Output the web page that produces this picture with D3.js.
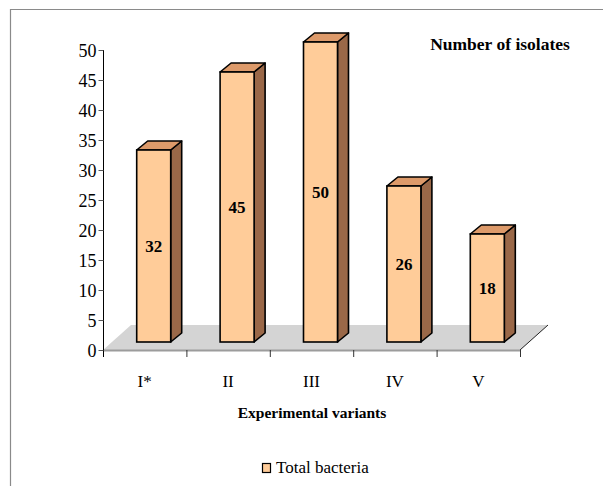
<!DOCTYPE html>
<html>
<head>
<meta charset="utf-8">
<script src="https://cdn.jsdelivr.net/npm/d3@7"></script>
<style>
  html, body { margin: 0; padding: 0; background: #fff; }
  svg { display: block; }
</style>
</head>
<body>
<svg id="chart" width="603" height="486"></svg>
<script>
// Data
const categories = ["I*", "II", "III", "IV", "V"];
const totalBacteria = [32, 45, 50, 26, 18];
const yTicks = [0, 5, 10, 15, 20, 25, 30, 35, 40, 45, 50];
const seriesName = "Total bacteria";

const FONT = "'Liberation Serif', 'DejaVu Serif', serif";
const svg = d3.select("#chart");

// Outer frame (top and left edges)
svg.append("path")
  .attr("d", "M10.5,486 L10.5,9.5 L603,9.5")
  .attr("fill", "none").attr("stroke", "#8a8a8a").attr("stroke-width", 1.2);

const plot = { left: 103, right: 520, top: 50, bottom: 350 };
const floorDepth = { dx: 28, dy: -25 };   // depth of the floor
const barShift = { dx: 9, dy: -8 };       // bars stand part-way into the floor
const barDepth = { dx: 11, dy: -9 };      // depth of each column

const x = d3.scaleBand().domain(categories).range([plot.left, plot.right]);
const y = d3.scaleLinear().domain([0, 50]).range([plot.bottom, plot.top]);
const barW = 34;

// Floor
svg.append("path")
  .attr("d", `M${plot.left},${plot.bottom} L${plot.left + floorDepth.dx},${plot.bottom + floorDepth.dy}
              L${plot.right + floorDepth.dx},${plot.bottom + floorDepth.dy} L${plot.right},${plot.bottom} Z`)
  .attr("fill", "#d4d4d4");
svg.append("line")
  .attr("x1", plot.left).attr("x2", plot.right).attr("y1", plot.bottom + 0.5).attr("y2", plot.bottom + 0.5)
  .attr("stroke", "#9c9c9c").attr("stroke-width", 2);
svg.append("line")
  .attr("x1", plot.right).attr("y1", plot.bottom)
  .attr("x2", plot.right + floorDepth.dx).attr("y2", plot.bottom + floorDepth.dy)
  .attr("stroke", "#222").attr("stroke-width", 1);

// Category tick marks on the floor's front edge
const bounds = categories.map(c => x(c)).concat([plot.right]);
svg.append("g").selectAll("line").data(bounds).join("line")
  .attr("x1", d => d + 0.5).attr("x2", d => d + 0.5)
  .attr("y1", plot.bottom).attr("y2", plot.bottom + 7)
  .attr("stroke", "#333").attr("stroke-width", 1);

// Category labels
svg.append("g").selectAll("text").data(categories).join("text")
  .attr("x", d => x(d) + x.bandwidth() / 2)
  .attr("y", 387)
  .attr("text-anchor", "middle")
  .style("font-family", FONT).style("font-size", "17px")
  .text(d => d);

// Value axis
const yAxis = d3.axisLeft(y).tickValues(yTicks).tickSize(5).tickPadding(2).tickSizeOuter(0);
const gy = svg.append("g").attr("transform", `translate(${plot.left + 0.5},0)`).call(yAxis);
gy.select(".domain").attr("stroke", "#000").attr("d", `M0,${plot.top} V${plot.bottom + 7}`);
gy.selectAll(".tick line").attr("stroke", "#555");
gy.selectAll(".tick text")
  .style("font-family", FONT).style("font-size", "18px").attr("fill", "#000")
  .attr("dy", "0.34em");

// Columns
const bars = svg.append("g").selectAll("g").data(categories.map((c, i) => ({ c, v: totalBacteria[i] }))).join("g");
bars.each(function(d) {
  const g = d3.select(this);
  const x0 = x(d.c) + (x.bandwidth() - barW) / 2 + barShift.dx;
  const x1 = x0 + barW;
  const yb = y(0) + barShift.dy;
  const yt = y(d.v) + barShift.dy;
  const ddx = barDepth.dx, ddy = barDepth.dy;
  // side face
  g.append("path")
    .attr("d", `M${x1},${yt} L${x1 + ddx},${yt + ddy} L${x1 + ddx},${yb + ddy} L${x1},${yb} Z`)
    .attr("fill", "#9a6848").attr("stroke", "#000").attr("stroke-width", 1.6).attr("stroke-linejoin", "round");
  // top face
  g.append("path")
    .attr("d", `M${x0},${yt} L${x0 + ddx},${yt + ddy} L${x1 + ddx},${yt + ddy} L${x1},${yt} Z`)
    .attr("fill", "#dd9a6a").attr("stroke", "#000").attr("stroke-width", 1.6).attr("stroke-linejoin", "round");
  // front face
  g.append("rect")
    .attr("x", x0).attr("y", yt).attr("width", barW).attr("height", yb - yt)
    .attr("fill", "#ffcc99").attr("stroke", "#000").attr("stroke-width", 1.6);
  // value label
  g.append("text")
    .attr("x", (x0 + x1) / 2).attr("y", (yt + yb) / 2)
    .attr("dy", "0.35em")
    .attr("text-anchor", "middle")
    .style("font-family", FONT).style("font-size", "17px").style("font-weight", "bold")
    .text(d.v);
});

// Titles
svg.append("text").attr("x", 500).attr("y", 50).attr("text-anchor", "middle")
  .style("font-family", FONT).style("font-size", "17.5px").style("font-weight", "bold")
  .text("Number of isolates");
svg.append("text").attr("x", 312).attr("y", 418).attr("text-anchor", "middle")
  .style("font-family", FONT).style("font-size", "15.5px").style("font-weight", "bold")
  .text("Experimental variants");

// Legend
svg.append("rect").attr("x", 262.5).attr("y", 463.5).attr("width", 8).attr("height", 9)
  .attr("fill", "#ffcc99").attr("stroke", "#000").attr("stroke-width", 1.2);
svg.append("text").attr("x", 276).attr("y", 473)
  .style("font-family", FONT).style("font-size", "17px")
  .text(seriesName);
</script>
</body>
</html>
